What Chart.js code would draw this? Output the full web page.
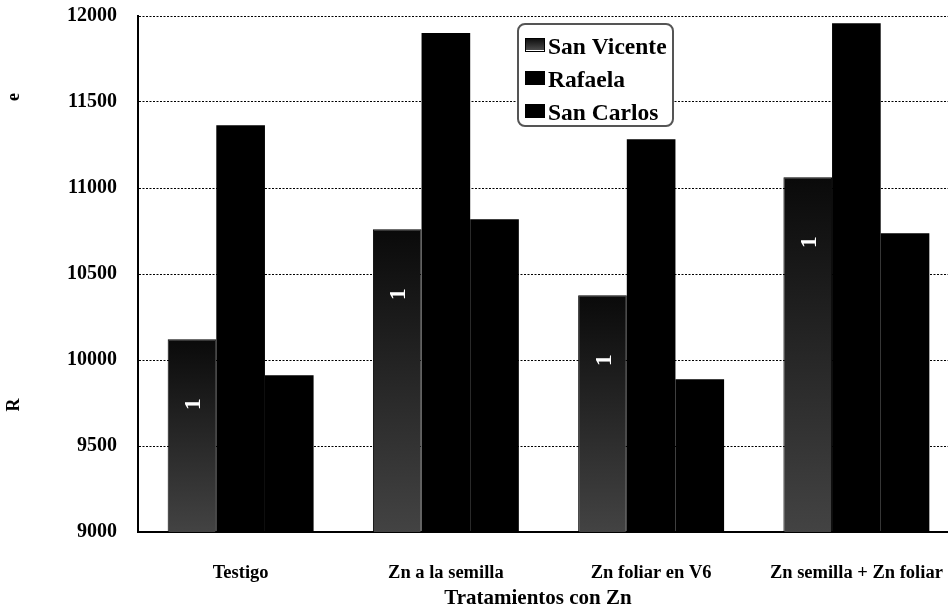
<!DOCTYPE html>
<html>
<head>
<meta charset="utf-8">
<script src="https://cdn.jsdelivr.net/npm/chart.js@4/dist/chart.umd.min.js"></script>
<style>
  html, body { margin: 0; padding: 0; background: #fff; overflow: hidden; }
  #wrap { width: 980px; height: 612px; }
</style>
</head>
<body>
<div id="wrap"><canvas id="c" width="980" height="612"></canvas></div>
<script>
// Rendimiento por tratamiento con Zn en tres localidades
const categories = ['Testigo', 'Zn a la semilla', 'Zn foliar en V6', 'Zn semilla + Zn foliar'];
const sanVicente = [10120, 10760, 10376, 11062];
const rafaela    = [11365, 11901, 11283, 11958];
const sanCarlos  = [9911, 10818, 9888, 10737];
const sanVicenteLabels = ['1', '1', '1', '1'];
const seriesNames = ['San Vicente', 'Rafaela', 'San Carlos'];
const yMin = 9000, yMax = 12000, yStep = 500;
const xTitle = 'Tratamientos con Zn';
const yTitleParts = [{ text: 'R', y: 405 }, { text: 'e', y: 97 }];

const SERIF = '"Liberation Serif", "Times New Roman", serif';

function barGradient(ctx) {
  const chart = ctx.chart;
  const ys = chart.scales.y;
  if (!ys || ctx.raw == null) return '#222';
  const top = ys.getPixelForValue(ctx.raw);
  const bottom = ys.getPixelForValue(yMin);
  if (!isFinite(top) || !isFinite(bottom) || top === bottom) return '#222';
  const g = chart.ctx.createLinearGradient(0, top, 0, bottom);
  g.addColorStop(0, '#0a0a0a');
  g.addColorStop(1, '#434343');
  return g;
}

const extras = {
  id: 'extras',
  afterDatasetsDraw(chart) {
    const ctx = chart.ctx;
    // white labels inside the San Vicente bars
    const meta = chart.getDatasetMeta(0);
    ctx.save();
    ctx.fillStyle = '#fff';
    ctx.font = 'bold 24px ' + SERIF;
    ctx.textAlign = 'center';
    ctx.textBaseline = 'middle';
    meta.data.forEach((bar, i) => {
      ctx.save();
      ctx.translate(bar.x + 2, bar.y + 65);
      ctx.rotate(-Math.PI / 2);
      ctx.fillText(sanVicenteLabels[i], 0, 0);
      ctx.restore();
    });
    ctx.restore();
  },
  afterDraw(chart) {
    const ctx = chart.ctx;
    // axis titles
    ctx.save();
    ctx.fillStyle = '#000';
    ctx.font = 'bold 18px ' + SERIF;
    ctx.textAlign = 'center';
    ctx.textBaseline = 'middle';
    yTitleParts.forEach(p => {
      ctx.save();
      ctx.translate(14, p.y);
      ctx.rotate(-Math.PI / 2);
      ctx.fillText(p.text, 0, 0);
      ctx.restore();
    });
    ctx.font = 'bold 21px ' + SERIF;
    ctx.fillText(xTitle, 538, 599);
    ctx.restore();

    // legend box
    const bx = 518, by = 24, bw = 155, bh = 102, r = 7;
    ctx.save();
    ctx.beginPath();
    ctx.roundRect(bx, by, bw, bh, r);
    ctx.fillStyle = '#fff';
    ctx.fill();
    ctx.lineWidth = 2;
    ctx.strokeStyle = '#555';
    ctx.stroke();
    ctx.font = 'bold 23.5px ' + SERIF;
    ctx.textAlign = 'left';
    ctx.textBaseline = 'alphabetic';
    const rows = [54, 87, 120];
    chart.data.datasets.forEach((ds, i) => {
      const sy = rows[i] - 16;
      if (i === 0) {
        const g = ctx.createLinearGradient(0, sy, 0, sy + 14);
        g.addColorStop(0, '#0a0a0a');
        g.addColorStop(1, '#555');
        ctx.fillStyle = g;
        ctx.fillRect(525, sy, 20, 14);
        ctx.strokeStyle = '#000';
        ctx.lineWidth = 1;
        ctx.strokeRect(525.5, sy + 0.5, 19, 13);
        ctx.strokeStyle = '#fff';
        ctx.beginPath();
        ctx.moveTo(526, sy + 12.5);
        ctx.lineTo(544, sy + 12.5);
        ctx.stroke();
      } else {
        ctx.fillStyle = '#000';
        ctx.fillRect(525, sy, 20, 14);
      }
      ctx.fillStyle = '#000';
      ctx.fillText(ds.label, 548, rows[i]);
    });
    ctx.restore();
  }
};

new Chart(document.getElementById('c'), {
  type: 'bar',
  data: {
    labels: categories,
    datasets: [
      { label: seriesNames[0], data: sanVicente, backgroundColor: barGradient, borderColor: '#000', borderWidth: 1 },
      { label: seriesNames[1], data: rafaela, backgroundColor: '#000' },
      { label: seriesNames[2], data: sanCarlos, backgroundColor: '#000' }
    ]
  },
  options: {
    responsive: false,
    animation: false,
    devicePixelRatio: 1,
    layout: { padding: { top: 16, right: 21, bottom: 0, left: 0 } },
    datasets: { bar: { categoryPercentage: 0.711, barPercentage: 1 } },
    plugins: { legend: { display: false }, tooltip: { enabled: false } },
    scales: {
      x: {
        grid: { display: false, drawTicks: false },
        border: { display: true, color: '#000', width: 2 },
        ticks: { color: '#000', padding: 30, maxRotation: 0, font: { family: SERIF, size: 18.5, weight: 'bold' } },
        title: { display: false },
        afterFit(s) { s.height = 80; s.paddingLeft = 0; s.paddingRight = 0; }
      },
      y: {
        min: yMin,
        max: yMax,
        grid: { color: '#000', lineWidth: 1, drawTicks: false },
        border: { display: true, color: '#000', width: 2, dash: [2, 1.5] },
        ticks: {
          stepSize: yStep, color: '#000', padding: 21,
          font: { family: SERIF, size: 20, weight: 'bold' },
          callback: v => String(v)
        },
        afterFit(s) { s.width = 138; s.paddingTop = 0; s.paddingBottom = 0; }
      }
    }
  },
  plugins: [extras]
});
</script>
</body>
</html>
